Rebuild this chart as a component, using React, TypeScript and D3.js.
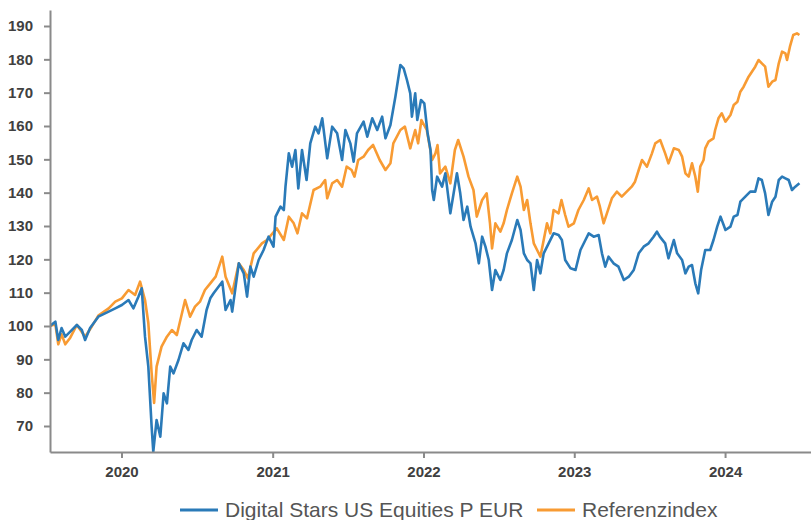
import React, { useEffect } from "react";
import * as d3 from "d3";

// Digital Stars US Equities P EUR
const fundDates = [
  "2019-07-12", "2019-07-25", "2019-08-01", "2019-08-09", "2019-08-18", "2019-08-30", "2019-09-15", "2019-09-27", "2019-10-05", "2019-10-17", "2019-11-06", "2019-12-01", "2019-12-17",
  "2020-01-02", "2020-01-18", "2020-01-30", "2020-02-11", "2020-02-19", "2020-02-27", "2020-03-06", "2020-03-14", "2020-03-18", "2020-03-26", "2020-04-04", "2020-04-12", "2020-04-20", "2020-04-28", "2020-05-06", "2020-05-18", "2020-05-30", "2020-06-11", "2020-06-19", "2020-07-01", "2020-07-13", "2020-07-25", "2020-08-03", "2020-08-11", "2020-09-01", "2020-09-09", "2020-09-21", "2020-09-25", "2020-10-11", "2020-10-23", "2020-10-31", "2020-11-08", "2020-11-16", "2020-11-28", "2020-12-10", "2020-12-22",
  "2021-01-03", "2021-01-08", "2021-01-20", "2021-01-28", "2021-02-01", "2021-02-09", "2021-02-17", "2021-02-25", "2021-03-04", "2021-03-13", "2021-03-24", "2021-04-02", "2021-04-14", "2021-04-22", "2021-05-01", "2021-05-13", "2021-05-25", "2021-06-06", "2021-06-18", "2021-06-26", "2021-07-08", "2021-07-16", "2021-07-24", "2021-08-09", "2021-08-18", "2021-08-30", "2021-09-11", "2021-09-23", "2021-10-01", "2021-10-13", "2021-10-25", "2021-11-06", "2021-11-14", "2021-11-22", "2021-11-30", "2021-12-04", "2021-12-12", "2021-12-17", "2021-12-26",
  "2022-01-03", "2022-01-11", "2022-01-18", "2022-01-22", "2022-01-26", "2022-02-03", "2022-02-15", "2022-02-23", "2022-03-07", "2022-03-15", "2022-03-23", "2022-03-31", "2022-04-08", "2022-04-17", "2022-04-25", "2022-05-07", "2022-05-15", "2022-05-23", "2022-05-31", "2022-06-08", "2022-06-16", "2022-06-24", "2022-07-06", "2022-07-14", "2022-07-22", "2022-08-03", "2022-08-16", "2022-08-24", "2022-09-01", "2022-09-09", "2022-09-17", "2022-09-25", "2022-10-03", "2022-10-11", "2022-10-19", "2022-10-31", "2022-11-12", "2022-11-24", "2022-12-02", "2022-12-10", "2022-12-23",
  "2023-01-04", "2023-01-16", "2023-01-28", "2023-02-05", "2023-02-17", "2023-03-01", "2023-03-09", "2023-03-17", "2023-03-25", "2023-04-06", "2023-04-18", "2023-05-01", "2023-05-13", "2023-05-25", "2023-06-06", "2023-06-18", "2023-06-30", "2023-07-12", "2023-07-20", "2023-07-27", "2023-08-09", "2023-08-17", "2023-08-30", "2023-09-07", "2023-09-19", "2023-09-27", "2023-10-05", "2023-10-13", "2023-10-21", "2023-10-28", "2023-11-04", "2023-11-14", "2023-11-26", "2023-12-04", "2023-12-13", "2023-12-21",
  "2024-01-02", "2024-01-14", "2024-01-22", "2024-01-31", "2024-02-07", "2024-02-19", "2024-03-02", "2024-03-14", "2024-03-22", "2024-03-30", "2024-04-07", "2024-04-15", "2024-04-24", "2024-05-02", "2024-05-10", "2024-05-18", "2024-05-26", "2024-06-03", "2024-06-11", "2024-06-19", "2024-06-29",
];
const fundValues = [
  100.0, 101.3, 95.8, 99.4, 96.8, 98.3, 100.3, 98.8, 95.8, 99.4, 102.8, 104.3, 105.3,
  106.3, 107.8, 105.3, 108.8, 111.3, 96.8, 87.8, 69.8, 62.3, 71.8, 66.8, 79.8, 76.8, 87.8, 85.8, 89.8, 94.8, 92.8, 95.8, 98.8, 96.8, 104.8, 108.3, 109.8, 113.3, 104.8, 107.8, 104.3, 118.8, 115.8, 108.8, 117.8, 114.8, 119.8, 122.8, 126.8,
  123.8, 132.8, 135.8, 134.8, 141.8, 151.8, 147.8, 152.8, 141.3, 152.8, 143.8, 154.8, 159.8, 157.8, 162.3, 150.3, 159.8, 157.8, 149.8, 158.8, 154.8, 149.3, 157.8, 161.3, 156.8, 162.3, 158.8, 162.8, 156.3, 160.3, 168.8, 178.3, 177.3, 173.8, 169.8, 162.8, 169.8, 161.8, 167.8,
  166.8, 157.8, 152.8, 140.8, 137.8, 144.8, 141.8, 145.8, 133.8, 139.8, 145.8, 139.8, 131.8, 135.8, 129.8, 124.8, 118.8, 126.8, 123.8, 119.8, 110.8, 116.8, 113.8, 116.8, 121.8, 125.8, 131.8, 128.8, 121.8, 119.8, 118.8, 110.8, 119.8, 115.8, 121.8, 124.8, 127.8, 127.3, 125.8, 119.8, 117.3,
  116.8, 122.8, 125.8, 127.8, 126.8, 127.3, 121.8, 117.8, 120.8, 118.8, 117.8, 113.8, 114.8, 116.8, 121.8, 123.8, 124.8, 126.8, 128.3, 126.8, 124.8, 120.3, 125.8, 121.8, 119.8, 115.8, 117.8, 118.3, 112.8, 109.8, 116.8, 122.8, 122.8, 125.8, 129.8, 132.8,
  128.8, 129.8, 132.8, 133.3, 137.3, 138.8, 140.3, 140.3, 144.3, 143.8, 139.8, 133.3, 137.3, 138.8, 143.8, 144.8, 144.3, 143.8, 140.8, 141.8, 142.8,
];

// Referenzindex
const indexDates = [
  "2019-07-12", "2019-07-25", "2019-08-01", "2019-08-09", "2019-08-18", "2019-08-30", "2019-09-15", "2019-10-05", "2019-10-17", "2019-11-06", "2019-12-01", "2019-12-17",
  "2020-01-02", "2020-01-18", "2020-02-03", "2020-02-15", "2020-02-27", "2020-03-06", "2020-03-14", "2020-03-20", "2020-03-26", "2020-04-07", "2020-04-20", "2020-05-02", "2020-05-14", "2020-06-03", "2020-06-15", "2020-06-27", "2020-07-09", "2020-07-21", "2020-08-03", "2020-08-16", "2020-09-01", "2020-09-09", "2020-09-25", "2020-10-11", "2020-10-23", "2020-11-02", "2020-11-16", "2020-12-06", "2020-12-18",
  "2021-01-11", "2021-01-28", "2021-02-09", "2021-02-21", "2021-03-02", "2021-03-13", "2021-03-25", "2021-04-10", "2021-04-26", "2021-05-08", "2021-05-13", "2021-05-25", "2021-06-06", "2021-06-18", "2021-06-29", "2021-07-11", "2021-07-18", "2021-07-27", "2021-08-09", "2021-08-20", "2021-09-01", "2021-09-17", "2021-10-01", "2021-10-13", "2021-10-20", "2021-11-06", "2021-11-17", "2021-11-30", "2021-12-12", "2021-12-19", "2021-12-27",
  "2022-01-09", "2022-01-22", "2022-01-30", "2022-02-04", "2022-02-10", "2022-02-23", "2022-03-07", "2022-03-18", "2022-03-26", "2022-04-08", "2022-04-20", "2022-05-02", "2022-05-10", "2022-05-23", "2022-06-03", "2022-06-11", "2022-06-16", "2022-06-24", "2022-07-06", "2022-07-14", "2022-07-22", "2022-08-03", "2022-08-16", "2022-08-24", "2022-09-01", "2022-09-09", "2022-09-17", "2022-09-25", "2022-10-03", "2022-10-11", "2022-10-19", "2022-10-27", "2022-11-04", "2022-11-12", "2022-11-24", "2022-12-01", "2022-12-10", "2022-12-18", "2022-12-31",
  "2023-01-11", "2023-01-24", "2023-02-05", "2023-02-13", "2023-02-25", "2023-03-04", "2023-03-13", "2023-03-21", "2023-04-02", "2023-04-14", "2023-04-26", "2023-05-08", "2023-05-20", "2023-05-28", "2023-06-06", "2023-06-14", "2023-06-26", "2023-07-08", "2023-07-16", "2023-07-28", "2023-08-09", "2023-08-17", "2023-08-30", "2023-09-11", "2023-09-19", "2023-09-27", "2023-10-05", "2023-10-13", "2023-10-21", "2023-10-27", "2023-11-02", "2023-11-10", "2023-11-14", "2023-11-22", "2023-12-04", "2023-12-08", "2023-12-16", "2023-12-24",
  "2024-01-02", "2024-01-14", "2024-01-22", "2024-01-31", "2024-02-07", "2024-02-15", "2024-02-27", "2024-03-06", "2024-03-14", "2024-03-22", "2024-03-30", "2024-04-07", "2024-04-15", "2024-04-24", "2024-05-02", "2024-05-10", "2024-05-18", "2024-05-26", "2024-05-30", "2024-06-06", "2024-06-14", "2024-06-23", "2024-06-29",
];
const indexValues = [
  100.0, 100.5, 94.5, 97.5, 94.5, 96.5, 100.3, 96.8, 99.0, 103.1, 105.3, 107.3,
  108.3, 110.8, 109.3, 113.3, 107.8, 100.9, 85.9, 76.9, 87.8, 93.8, 96.8, 98.8, 97.3, 107.8, 102.8, 105.8, 107.3, 110.8, 112.8, 114.8, 120.8, 114.8, 109.8, 118.8, 116.8, 114.3, 121.8, 124.8, 125.8,
  129.3, 125.8, 132.8, 130.8, 127.8, 133.8, 132.3, 140.8, 141.8, 143.8, 138.3, 142.8, 143.8, 141.8, 147.8, 146.8, 144.8, 149.8, 150.8, 152.8, 154.3, 149.8, 146.8, 148.8, 154.8, 158.8, 159.8, 153.3, 158.8, 154.8, 161.8,
  158.8, 149.8, 151.8, 154.3, 145.8, 147.8, 142.8, 152.8, 155.8, 150.8, 144.8, 140.8, 132.8, 137.8, 139.8, 130.8, 123.3, 130.8, 128.3, 130.8, 134.8, 139.8, 144.8, 141.8, 134.8, 137.8, 130.8, 124.8, 122.8, 120.8, 125.8, 130.8, 127.8, 134.8, 133.8, 137.8, 133.3, 129.8, 130.8,
  134.8, 137.8, 141.3, 137.8, 138.8, 135.8, 130.8, 133.8, 138.3, 140.3, 138.8, 140.3, 141.8, 143.3, 146.8, 149.8, 147.8, 151.8, 154.8, 155.8, 151.8, 148.8, 153.3, 152.8, 150.8, 145.8, 144.8, 148.8, 144.8, 140.3, 147.8, 149.8, 153.3, 155.3, 156.3, 158.8, 162.3, 163.8,
  161.3, 163.3, 166.3, 167.3, 170.3, 171.8, 174.8, 176.3, 177.8, 179.8, 178.8, 177.8, 171.8, 173.3, 173.8, 178.8, 182.3, 181.8, 179.8, 183.8, 187.3, 187.8, 187.3,
];

const yTicks = [70, 80, 90, 100, 110, 120, 130, 140, 150, 160, 170, 180, 190];
const yearTicks = ["2020-01-01", "2021-01-01", "2022-01-01", "2023-01-01", "2024-01-01"];
const seriesNames = ["Digital Stars US Equities P EUR", "Referenzindex"];
const seriesColors = ["#2a7ab8", "#f89b33"];

const App = () => {
  useEffect(() => {
    document.body.style.margin = "0";
    d3.select("#perf-chart svg").remove();

    const width = 811;
    const height = 520;
    const parse = d3.utcParse("%Y-%m-%d");

    const svg = d3
      .select("#perf-chart")
      .append("svg")
      .attr("width", width)
      .attr("height", height)
      .style("display", "block")
      .style("font-family", "'Liberation Sans', Arial, sans-serif");

    const xScale = d3
      .scaleUtc()
      .domain([parse("2019-07-12"), parse("2024-07-27")])
      .range([50, 811]);
    const yScale = d3.scaleLinear().domain([62.2, 194.8]).range([452, 10]);

    const fund = fundDates.map((d, i) => ({ date: parse(d), value: fundValues[i] }));
    const index = indexDates.map((d, i) => ({ date: parse(d), value: indexValues[i] }));

    // clip so the March 2020 dip is cut at the x axis
    svg
      .append("clipPath")
      .attr("id", "plot-clip")
      .append("rect")
      .attr("x", 50)
      .attr("y", 0)
      .attr("width", 761)
      .attr("height", 452);

    const line = d3
      .line<any>()
      .x((d) => xScale(d.date))
      .y((d) => yScale(d.value));

    const plot = svg.append("g").attr("clip-path", "url(#plot-clip)");
    [index, fund].forEach((series, k) => {
      plot
        .append("path")
        .datum(series)
        .attr("fill", "none")
        .attr("stroke", k === 0 ? seriesColors[1] : seriesColors[0])
        .attr("stroke-width", 2.6)
        .attr("stroke-linejoin", "round")
        .attr("d", line);
    });

    // Y axis
    const yAxis = svg
      .append("g")
      .attr("transform", "translate(50,0)")
      .call(d3.axisLeft(yScale).tickValues(yTicks).tickSize(6).tickSizeOuter(0).tickPadding(11));

    // X axis
    const xAxis = svg
      .append("g")
      .attr("transform", "translate(0,452)")
      .call(
        d3
          .axisBottom(xScale)
          .tickValues(yearTicks.map((d) => parse(d)))
          .tickFormat(d3.utcFormat("%Y") as any)
          .tickSize(6)
          .tickSizeOuter(0)
          .tickPadding(8)
      );

    [yAxis, xAxis].forEach((g) => {
      g.selectAll("path, line").attr("stroke", "#8a8a8a").attr("stroke-width", 2);
      g.selectAll("text")
        .attr("fill", "#404040")
        .style("font-family", "'Liberation Sans', Arial, sans-serif")
        .style("font-size", "15px")
        .style("font-weight", "bold");
    });

    // Legend
    const legendItems = [
      { name: seriesNames[0], color: seriesColors[0], x: 180 },
      { name: seriesNames[1], color: seriesColors[1], x: 537 },
    ];
    const legend = svg.selectAll(".legend-item").data(legendItems).enter().append("g").attr("class", "legend-item");
    legend
      .append("line")
      .attr("x1", (d) => d.x)
      .attr("x2", (d) => d.x + 38)
      .attr("y1", 510)
      .attr("y2", 510)
      .attr("stroke", (d) => d.color)
      .attr("stroke-width", 3);
    legend
      .append("text")
      .attr("x", (d) => d.x + 45)
      .attr("y", 517)
      .text((d) => d.name)
      .attr("fill", "#555555")
      .style("font-size", "21px");
  }, []);

  return <div id="perf-chart"></div>;
};

export default App;
